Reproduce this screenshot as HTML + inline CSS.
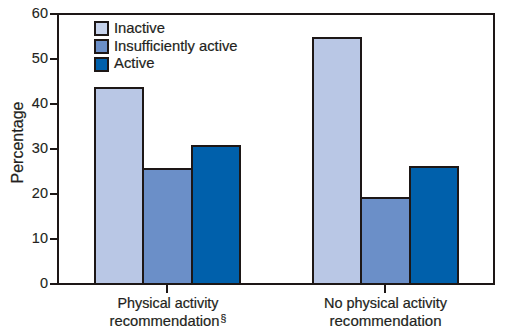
<!DOCTYPE html>
<html><head><meta charset="utf-8"><style>
html,body{margin:0;padding:0;background:#fff;width:512px;height:333px;overflow:hidden}
svg{display:block}
text{font-family:"Liberation Sans",sans-serif;fill:#231f20;stroke:#231f20;stroke-width:0.2px}
</style></head><body>
<svg width="512" height="333" viewBox="0 0 512 333">
<rect width="512" height="333" fill="#fff"/>
<g shape-rendering="crispEdges">
<rect x="94" y="87" width="50" height="198" fill="#1d1716"/>
<rect x="96" y="89" width="46" height="194" fill="#b9c7e5"/>
<rect x="142" y="168" width="51" height="117" fill="#1d1716"/>
<rect x="144" y="170" width="47" height="113" fill="#6b8fc8"/>
<rect x="191" y="145" width="50" height="140" fill="#1d1716"/>
<rect x="193" y="147" width="46" height="136" fill="#0060ab"/>
<rect x="312" y="37" width="50" height="248" fill="#1d1716"/>
<rect x="314" y="39" width="46" height="244" fill="#b9c7e5"/>
<rect x="360" y="197" width="51" height="88" fill="#1d1716"/>
<rect x="362" y="199" width="47" height="84" fill="#6b8fc8"/>
<rect x="409" y="166" width="50" height="119" fill="#1d1716"/>
<rect x="411" y="168" width="46" height="115" fill="#0060ab"/>
<rect x="57" y="13" width="438" height="2" fill="#1d1716"/>
<rect x="57" y="283" width="438" height="2" fill="#1d1716"/>
<rect x="57" y="13" width="2" height="272" fill="#1d1716"/>
<rect x="493" y="13" width="2" height="272" fill="#1d1716"/>
<rect x="50" y="13" width="8" height="2" fill="#1d1716"/>
<rect x="50" y="58" width="8" height="2" fill="#1d1716"/>
<rect x="50" y="103" width="8" height="2" fill="#1d1716"/>
<rect x="50" y="148" width="8" height="2" fill="#1d1716"/>
<rect x="50" y="193" width="8" height="2" fill="#1d1716"/>
<rect x="50" y="238" width="8" height="2" fill="#1d1716"/>
<rect x="50" y="283" width="8" height="2" fill="#1d1716"/>
<rect x="166" y="285" width="2" height="8" fill="#1d1716"/>
<rect x="384" y="285" width="2" height="8" fill="#1d1716"/>
<rect x="94" y="21" width="15" height="15" fill="#1d1716"/>
<rect x="96" y="23" width="11" height="11" fill="#c6d2eb"/>
<rect x="94" y="39" width="15" height="15" fill="#1d1716"/>
<rect x="96" y="41" width="11" height="11" fill="#6b8fc8"/>
<rect x="94" y="57" width="15" height="15" fill="#1d1716"/>
<rect x="96" y="59" width="11" height="11" fill="#0060ab"/>
</g>
<text x="48" y="18" font-size="14.5" text-anchor="end" style="stroke-width:0.12px">60</text>
<text x="48" y="63" font-size="14.5" text-anchor="end" style="stroke-width:0.12px">50</text>
<text x="48" y="108" font-size="14.5" text-anchor="end" style="stroke-width:0.12px">40</text>
<text x="48" y="153" font-size="14.5" text-anchor="end" style="stroke-width:0.12px">30</text>
<text x="48" y="198" font-size="14.5" text-anchor="end" style="stroke-width:0.12px">20</text>
<text x="48" y="243" font-size="14.5" text-anchor="end" style="stroke-width:0.12px">10</text>
<text x="48" y="288" font-size="14.5" text-anchor="end" style="stroke-width:0.12px">0</text>
<text x="114" y="33" font-size="15" textLength="51" lengthAdjust="spacingAndGlyphs">Inactive</text>
<text x="114" y="51" font-size="15" textLength="123.5" lengthAdjust="spacingAndGlyphs">Insufficiently active</text>
<text x="114" y="68" font-size="15" textLength="40.5" lengthAdjust="spacingAndGlyphs">Active</text>
<text x="117.5" y="308" font-size="14.5" textLength="101" lengthAdjust="spacingAndGlyphs">Physical activity</text>
<text x="109.5" y="326" font-size="15" textLength="110" lengthAdjust="spacingAndGlyphs">recommendation</text>
<text x="220.5" y="322" font-size="10.5">§</text>
<text x="324" y="308" font-size="14.5" textLength="123" lengthAdjust="spacingAndGlyphs">No physical activity</text>
<text x="329.5" y="326" font-size="15" textLength="112" lengthAdjust="spacingAndGlyphs">recommendation</text>
<text x="-183.5" y="23" font-size="15.7" textLength="82" lengthAdjust="spacingAndGlyphs" transform="rotate(-90)">Percentage</text>
</svg>
</body></html>
